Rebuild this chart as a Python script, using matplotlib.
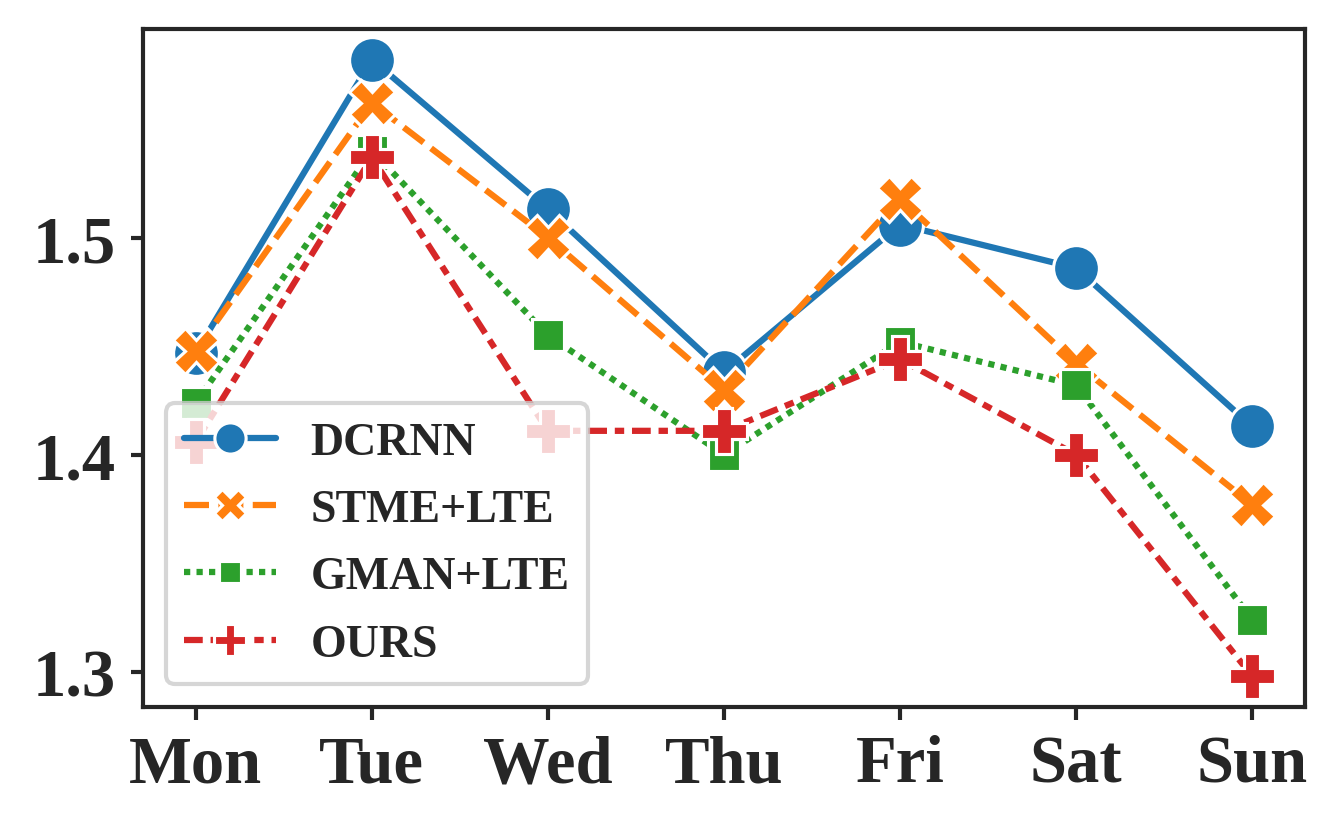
import matplotlib
matplotlib.use("Agg")
import matplotlib.pyplot as plt
import seaborn as sns
from matplotlib.lines import Line2D

days = ["Mon", "Tue", "Wed", "Thu", "Fri", "Sat", "Sun"]
dcrnn = [1.447, 1.582, 1.513, 1.438, 1.506, 1.486, 1.413]
stme_lte = [1.448, 1.562, 1.500, 1.430, 1.518, 1.442, 1.377]
gman_lte = [1.424, 1.540, 1.455, 1.400, 1.452, 1.432, 1.324]
ours = [1.406, 1.537, 1.411, 1.411, 1.444, 1.400, 1.298]

series_names = ["DCRNN", "STME+LTE", "GMAN+LTE", "OURS"]
series_values = [dcrnn, stme_lte, gman_lte, ours]

sns.set_style("ticks")
plt.rcParams["font.family"] = ["Liberation Serif", "DejaVu Serif"]
plt.rcParams["font.weight"] = "bold"

colors = sns.color_palette()[:4]
markers = ["o", "X", (4, 0, 45), "P"]
dashes = [None, (4, 1.5), (1, 1), (3, 1.25, 1.5, 1.25)]

fig = plt.figure(figsize=(1337 / 300, 828 / 300), dpi=300)
ax = fig.add_axes([0.107, 0.145, 0.869, 0.819])

x = list(range(len(days)))
handles = []
for name, vals, c, m, d in zip(series_names, series_values, colors, markers, dashes):
    kw = dict(color=c, marker=m, lw=1.5, mec="white", mew=0.75)
    if d is None:
        kw["linestyle"] = "-"
    else:
        kw["dashes"] = d
    ax.plot(x, vals, ms=11, **kw)
    handles.append(Line2D([], [], ms=7.5, label=name, **kw))

ax.set_xticks(x)
ax.set_xticklabels(days)
ax.set_yticks([1.3, 1.4, 1.5])
ax.tick_params(axis="both", labelsize=16, length=3, width=1.0, color="0.15")
for lab in ax.get_xticklabels() + ax.get_yticklabels():
    lab.set_fontweight("bold")
for sp in ax.spines.values():
    sp.set_linewidth(1.0)
    sp.set_color("0.15")

ax.legend(handles=handles, loc="lower left", prop={"size": 11, "weight": "bold"},
          handlelength=2.0, handletextpad=0.75, labelspacing=0.55, borderpad=0.4,
          framealpha=0.8)

fig.savefig("out.png", dpi=300)
